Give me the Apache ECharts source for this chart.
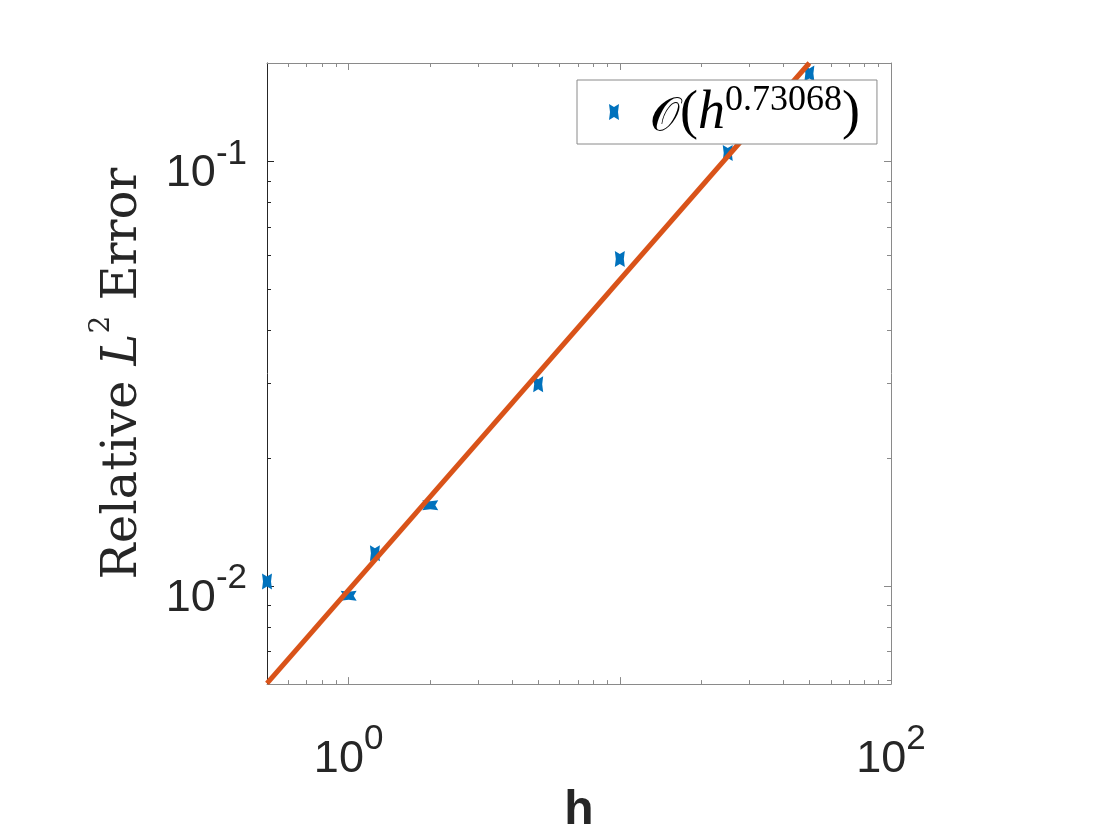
<!DOCTYPE html>
<html><head><meta charset="utf-8">
<script src="https://cdn.jsdelivr.net/npm/echarts@6/dist/echarts.min.js"></script>
<style>html,body{margin:0;padding:0;background:#fff}#c{width:1120px;height:840px}</style>
</head><body><div id="c"></div>
<script>
// ---- data ----
const hValues   = [0.5, 1, 1.25, 2, 5, 10, 25, 50];
const errValues = [0.01024, 0.00948, 0.01194, 0.01549, 0.02986, 0.0589, 0.1046, 0.1611];
const fitH      = [0.5, 50];
const fitErr    = [0.00589, 0.1705];
const fitExponentLabel = '0.73068';
const xRange = [0.5, 100];
const yRange = [0.00587, 0.1705];
const xLabelValues = [1, 100];
const xMajorTicks  = [1, 10, 100];
const xMinorTicks  = [0.6, 0.7, 0.8, 0.9, 2, 3, 4, 5, 6, 7, 8, 9, 20, 30, 40, 50, 60, 70, 80, 90];
const yLabelValues = [0.01, 0.1];
const yMajorTicks  = [0.01, 0.1];
const yMinorTicks  = [0.006, 0.007, 0.008, 0.009, 0.02, 0.03, 0.04, 0.05, 0.06, 0.07, 0.08, 0.09];
const xAxisTitle = 'h';
const seriesName = 'fit';

const chart = echarts.init(document.getElementById('c'), null, {renderer: 'canvas'});
const AX = '#262626';
const BOX = '#8a8a8a';
const sansFont = 'Liberation Sans, Arial, Helvetica, sans-serif';
const serifFont = 'Liberation Serif, DejaVu Serif, serif';
const powRich = {
  b: {fontSize: 45, fontFamily: sansFont, color: AX, lineHeight: 70, verticalAlign: 'bottom'},
  s: {fontSize: 35, fontFamily: sansFont, color: AX, verticalAlign: 'top', padding: [10, 0, 0, 0]}
};
function powFmt(v) {
  const e = Math.round(Math.log10(v));
  return '{b|10}{s|' + e + '}';
}
function logAxis(pos, range, ticks, tickLen, showLine, lineColor, labelVals, labelMargin, extra) {
  const a = {
    type: 'log', logBase: 10, position: pos, min: range[0], max: range[1],
    gridIndex: 0,
    axisLine: {show: showLine, onZero: false, lineStyle: {color: lineColor, width: 1}},
    axisTick: {show: true, inside: true, length: tickLen, customValues: ticks, lineStyle: {color: lineColor, width: 1}},
    axisLabel: labelVals ? {show: true, customValues: labelVals, formatter: powFmt, rich: powRich, margin: labelMargin} : {show: false},
    splitLine: {show: false},
    minorTick: {show: false}, minorSplitLine: {show: false}
  };
  return Object.assign(a, extra || {});
}

const markerPath = 'path://M0,0 L5,3 L10,0 L9,8 L10,16 L5,13 L0,16 L1,8 Z';
const rotatedIdx = [1, 3];

const option = {
  backgroundColor: '#fff',
  animation: false,
  grid: {left: 267, top: 63, width: 624, height: 623, containLabel: false},
  xAxis: [
    logAxis('bottom', xRange, xMajorTicks, 7, true, BOX, xLabelValues, 28, {
      name: xAxisTitle, nameLocation: 'middle', nameGap: 102,
      nameTextStyle: {fontSize: 48, fontWeight: 'bold', fontFamily: sansFont, color: AX}
    }),
    logAxis('bottom', xRange, xMinorTicks, 4, false, BOX, null),
    logAxis('top', xRange, xMajorTicks, 7, true, BOX, null),
    logAxis('top', xRange, xMinorTicks, 4, false, BOX, null)
  ],
  yAxis: [
    logAxis('left', yRange, yMajorTicks, 7, true, AX, yLabelValues, 20, {
      name: '{r|Relative }{i|L}{s|2}{r| Error}', nameLocation: 'middle', nameGap: 119, nameRotate: 90,
      nameTextStyle: {
        rich: {
          r: {fontSize: 48, fontFamily: 'DejaVu Serif, serif', color: AX, lineHeight: 60, verticalAlign: 'bottom'},
          i: {fontSize: 48, fontFamily: 'DejaVu Serif, serif', fontStyle: 'italic', color: AX, lineHeight: 60, verticalAlign: 'bottom'},
          s: {fontSize: 28, fontFamily: 'DejaVu Serif, serif', color: AX, verticalAlign: 'top', padding: [0, 0, 8, 0]}
        }
      }
    }),
    logAxis('left', yRange, yMinorTicks, 4, false, AX, null),
    logAxis('right', yRange, yMajorTicks, 7, true, BOX, null),
    logAxis('right', yRange, yMinorTicks, 4, false, BOX, null)
  ],
  legend: {
    show: true,
    data: [seriesName],
    left: 577, top: 80,
    orient: 'vertical',
    backgroundColor: '#fff',
    borderColor: '#8a8a8a', borderWidth: 1, borderRadius: 0,
    padding: [3, 17, 3, 32],
    itemWidth: 10, itemHeight: 16,
    symbolRotate: 0,
    selectedMode: false,
    formatter: function () {
      return '{g| }{o|\u{1D4AA}}{p|(}{h|h}{s|' + fitExponentLabel + '}{p|)}';
    },
    textStyle: {
      rich: {
        g: {width: 26, fontSize: 10},
        o: {fontSize: 47, fontFamily: 'DejaVu Serif, DejaVu Sans, serif', color: '#000', lineHeight: 58, verticalAlign: 'bottom'},
        p: {fontSize: 54, fontFamily: serifFont, color: '#000', lineHeight: 58, verticalAlign: 'bottom'},
        h: {fontSize: 54, fontFamily: serifFont, fontStyle: 'italic', color: '#000', lineHeight: 58, verticalAlign: 'bottom'},
        s: {fontSize: 36, fontFamily: serifFont, color: '#000', lineHeight: 38, verticalAlign: 'top'}
      }
    }
  },
  series: [
    {
      name: seriesName,
      type: 'scatter',
      xAxisIndex: 0, yAxisIndex: 0,
      data: hValues.map((h, i) => [h, errValues[i]]),
      symbol: markerPath,
      symbolSize: [10, 16],
      symbolRotate: function (v, p) { return rotatedIdx.indexOf(p.dataIndex) >= 0 ? 90 : 0; },
      itemStyle: {color: '#0072BD', opacity: 1},
      clip: false,
      z: 2
    },
    {
      name: 'line',
      type: 'line',
      xAxisIndex: 0, yAxisIndex: 0,
      data: fitH.map((h, i) => [h, fitErr[i]]),
      symbol: 'none',
      lineStyle: {color: '#D95319', width: 5},
      clip: true,
      z: 3
    }
  ]
};
chart.setOption(option);
</script>
</body></html>
